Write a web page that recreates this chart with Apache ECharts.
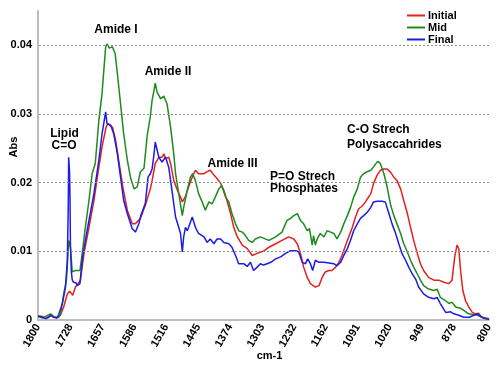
<!DOCTYPE html>
<html>
<head>
<meta charset="utf-8">
<script src="https://cdn.jsdelivr.net/npm/echarts@6/dist/echarts.min.js"></script>
<style>html,body{margin:0;padding:0;background:#fff}#c{width:500px;height:367px}</style>
</head>
<body>
<div id="c"></div>
<script>
const xTicks = [1800, 1728, 1657, 1586, 1516, 1445, 1374, 1303, 1232, 1162, 1091, 1020, 949, 878, 800];
const yTicks = [0, 0.01, 0.02, 0.03, 0.04];
const seriesNames = ['Initial', 'Mid', 'Final'];

const initialX = [1800,1790,1783,1772,1765,1754,1750,1743,1735,1730,1728,1723,1717,1711,1706,1698,1687,1676,1665,1658,1649,1645,1640,1635,1628,1620,1612,1602,1591,1584,1573,1562,1551,1547,1540,1532,1525,1521,1517,1510,1506,1499,1491,1484,1480,1473,1466,1458,1451,1444,1432,1425,1418,1410,1403,1395,1388,1381,1373,1366,1358,1347,1336,1325,1318,1307,1300,1288,1273,1259,1244,1233,1225,1218,1211,1203,1196,1185,1177,1170,1163,1155,1148,1140,1133,1126,1118,1111,1103,1096,1089,1081,1074,1062,1056,1048,1041,1033,1026,1018,1011,1004,996,989,981,974,967,959,952,945,934,922,911,900,889,882,876,871,867,863,858,852,845,837,830,823,817,808,800];
const initialY = [0.0006,0.0005,0.0002,0.0007,0.0004,0.0004,0.0008,0.0019,0.0038,0.0042,0.0041,0.0036,0.0048,0.0053,0.0058,0.0097,0.0135,0.0174,0.0223,0.0252,0.0281,0.0286,0.0283,0.0281,0.0262,0.0228,0.0194,0.016,0.014,0.014,0.0148,0.0167,0.0191,0.0203,0.0228,0.0237,0.0237,0.0242,0.0235,0.0237,0.0228,0.0203,0.0189,0.0179,0.0172,0.018,0.0194,0.0208,0.0218,0.0213,0.0213,0.0216,0.0218,0.0211,0.0206,0.0199,0.0189,0.0174,0.0155,0.0135,0.0121,0.0109,0.0104,0.0094,0.0096,0.0099,0.01,0.0106,0.0111,0.0116,0.0121,0.0118,0.0111,0.0097,0.0077,0.0062,0.0053,0.0048,0.005,0.0062,0.007,0.0072,0.0072,0.0077,0.0084,0.0094,0.0109,0.0121,0.0135,0.015,0.0162,0.0166,0.0172,0.0184,0.0199,0.0211,0.0218,0.022,0.022,0.0215,0.0208,0.0203,0.0191,0.0174,0.0155,0.0135,0.0116,0.0097,0.0082,0.0072,0.0062,0.0058,0.0058,0.0055,0.0053,0.0058,0.0092,0.0109,0.0104,0.0072,0.0043,0.0028,0.0019,0.0011,0.0009,0.001,0.0004,0.0002,0.0001];

const midX = [1800,1790,1781,1772,1765,1758,1750,1743,1737,1734,1732,1728,1724,1717,1707,1702,1695,1687,1680,1673,1665,1658,1650,1647,1642,1635,1629,1624,1617,1610,1602,1595,1587,1580,1573,1565,1558,1551,1547,1540,1536,1528,1521,1514,1506,1499,1495,1488,1480,1477,1469,1462,1457,1451,1444,1436,1429,1421,1414,1407,1399,1393,1384,1377,1370,1362,1355,1347,1340,1333,1325,1318,1307,1303,1288,1273,1259,1248,1240,1233,1225,1218,1211,1203,1198,1192,1189,1185,1181,1174,1166,1159,1151,1144,1137,1129,1122,1114,1107,1100,1092,1085,1078,1070,1062,1056,1047,1041,1033,1026,1018,1011,1004,996,989,981,974,967,959,952,945,934,922,915,908,896,889,882,874,863,856,845,837,826,815,800];
const midY = [0.0005,0.0003,0.0006,0.0009,0.0005,0.0003,0.0008,0.0038,0.0058,0.009,0.0116,0.0106,0.007,0.0072,0.0072,0.0097,0.0135,0.0174,0.0213,0.0228,0.0291,0.033,0.0398,0.0402,0.0396,0.0398,0.0388,0.0359,0.0315,0.0271,0.0233,0.0208,0.0191,0.0194,0.0216,0.0221,0.0268,0.0296,0.032,0.0345,0.0332,0.0322,0.0326,0.0315,0.0281,0.0242,0.0213,0.0184,0.0152,0.0164,0.0189,0.0208,0.0213,0.0203,0.0184,0.0172,0.016,0.0172,0.0169,0.0179,0.0191,0.0196,0.0179,0.0172,0.0155,0.014,0.013,0.0128,0.0123,0.0116,0.0113,0.0118,0.0121,0.0121,0.0116,0.0121,0.0128,0.0145,0.0148,0.0152,0.0155,0.0145,0.014,0.013,0.0133,0.0109,0.0123,0.0109,0.0118,0.0126,0.0121,0.013,0.0128,0.0126,0.0118,0.0128,0.014,0.0152,0.0164,0.0179,0.0191,0.0208,0.0213,0.0216,0.0218,0.0223,0.0231,0.0228,0.0213,0.0194,0.0167,0.0152,0.014,0.0126,0.0111,0.0099,0.0087,0.0077,0.0067,0.0058,0.005,0.0045,0.0043,0.0045,0.0033,0.0028,0.0024,0.0026,0.0019,0.0017,0.0014,0.0009,0.0008,0.0007,0.0004,0.0002];

const finalX = [1800,1798,1790,1783,1776,1772,1765,1758,1754,1746,1739,1735,1733,1732,1730,1729,1728,1726,1724,1721,1718,1715,1713,1710,1707,1702,1695,1687,1676,1665,1658,1652,1650,1647,1643,1639,1632,1624,1617,1610,1602,1591,1584,1576,1572,1569,1562,1556,1551,1547,1543,1540,1536,1532,1525,1517,1510,1502,1495,1488,1484,1480,1477,1473,1469,1466,1458,1451,1444,1432,1425,1418,1410,1403,1395,1388,1377,1370,1362,1355,1344,1336,1329,1322,1314,1307,1300,1292,1284,1273,1262,1251,1240,1228,1222,1214,1207,1202,1196,1191,1185,1177,1166,1155,1144,1137,1129,1122,1114,1107,1100,1092,1085,1078,1070,1062,1056,1048,1037,1030,1022,1015,1007,1000,993,985,978,970,963,956,945,934,922,915,908,896,885,878,867,856,844,826,815,808,800];
const finalY = [0.0006,0.0007,0.0004,0.0002,0.0004,0.0007,0.0004,0.0003,0.0008,0.0024,0.0048,0.0087,0.016,0.0237,0.0215,0.0175,0.0106,0.007,0.0058,0.0055,0.0055,0.0054,0.005,0.0052,0.0053,0.0087,0.0116,0.0145,0.0184,0.0233,0.0271,0.0295,0.0303,0.0286,0.0286,0.0284,0.0271,0.0242,0.0208,0.0174,0.0155,0.0133,0.0128,0.0141,0.0152,0.0154,0.017,0.0208,0.0213,0.022,0.024,0.0259,0.0248,0.0237,0.023,0.0237,0.0222,0.0184,0.015,0.0135,0.0126,0.0099,0.0121,0.0135,0.013,0.0135,0.015,0.0135,0.0126,0.0121,0.0113,0.0118,0.0111,0.0118,0.0118,0.0113,0.0111,0.0106,0.0094,0.0082,0.0082,0.0078,0.0084,0.0072,0.0077,0.0082,0.008,0.0082,0.0084,0.0089,0.0092,0.0097,0.0101,0.0101,0.0099,0.0084,0.0082,0.0089,0.0082,0.0072,0.0087,0.0084,0.0084,0.0083,0.0082,0.0079,0.0084,0.0094,0.0104,0.0116,0.013,0.014,0.0148,0.0152,0.0157,0.0164,0.0172,0.0173,0.0173,0.0172,0.0155,0.014,0.0126,0.0111,0.0097,0.0087,0.0077,0.0067,0.006,0.0048,0.0038,0.0033,0.0031,0.0033,0.0024,0.0011,0.0012,0.0009,0.0007,0.0004,0.0004,0.0009,0.0004,0.0002,0.0001];

const colors = ['#e41f1f', '#1f8a1f', '#1c1ce6'];
const F = 'Liberation Sans, Arial, sans-serif';

const pair = (xs, ys) => xs.map((x, i) => [x, ys[i]]);

const chart = echarts.init(document.getElementById('c'), null, {renderer: 'canvas'});

const gridSeries = {
  type: 'line', data: [], silent: true, z: 1,
  markLine: {
    silent: true, symbol: 'none', animation: false,
    label: {show: false},
    lineStyle: {color: '#8c8c8c', type: [2, 2], width: 1},
    data: yTicks.filter(v => v > 0).map(v => ({yAxis: v}))
  }
};

const textEl = (text, x, y, opts = {}) => Object.assign({
  type: 'text', x, y, silent: true,
  style: Object.assign({text, fill: '#000', font: 'bold 12px ' + F, textAlign: 'center', textVerticalAlign: 'middle'}, opts)
});

chart.setOption({
  animation: false,
  backgroundColor: '#fff',
  grid: {left: 38, right: 11, top: 11, bottom: 47, containLabel: false},
  legend: {
    orient: 'vertical', left: 402, top: 5, itemGap: 1,
    itemWidth: 18, itemHeight: 2, icon: 'rect',
    textStyle: {fontFamily: F, fontWeight: 'bold', fontSize: 11, color: '#000', padding: [0, 0, 0, -2]},
    data: seriesNames
  },
  xAxis: {
    type: 'value', min: 800, max: 1800, inverse: true,
    axisLine: {show: true, onZero: false, lineStyle: {color: '#bdbdbd', width: 2}},
    axisTick: {show: false},
    splitLine: {show: false},
    axisLabel: {
      customValues: xTicks, rotate: 60, margin: 5,
      fontFamily: F, fontWeight: 'bold', fontSize: 11, color: '#000',
      formatter: v => String(v)
    }
  },
  yAxis: {
    type: 'value', min: 0, max: 0.045, interval: 0.01,
    axisLine: {show: true, lineStyle: {color: '#bdbdbd', width: 2}},
    axisTick: {show: false},
    splitLine: {show: false},
    axisLabel: {
      showMaxLabel: false, margin: 6,
      fontFamily: F, fontWeight: 'bold', fontSize: 11, color: '#000',
      formatter: v => (v === 0 ? '0' : String(+v.toFixed(2)))
    }
  },
  series: [
    gridSeries,
    {name: seriesNames[0], type: 'line', showSymbol: false, data: pair(initialX, initialY), lineStyle: {width: 1.5, color: colors[0]}, itemStyle: {color: colors[0]}, z: 2},
    {name: seriesNames[1], type: 'line', showSymbol: false, data: pair(midX, midY), lineStyle: {width: 1.5, color: colors[1]}, itemStyle: {color: colors[1]}, z: 3},
    {name: seriesNames[2], type: 'line', showSymbol: false, data: pair(finalX, finalY), lineStyle: {width: 1.5, color: colors[2]}, itemStyle: {color: colors[2]}, z: 4}
  ],
  graphic: [
    textEl('Amide I', 116, 30),
    textEl('Amide II', 168, 72),
    textEl('Lipid', 64.5, 134),
    textEl('C=O', 64, 146),
    textEl('Amide III', 232.5, 164),
    textEl('P=O Strech', 270, 176.5, {textAlign: 'left'}),
    textEl('Phosphates', 270, 189, {textAlign: 'left'}),
    textEl('C-O Strech', 347, 130, {textAlign: 'left'}),
    textEl('Polysaccahrides', 347, 144.5, {textAlign: 'left'}),
    Object.assign(textEl('Abs', 0, 0, {font: 'bold 11px ' + F}), {x: 14, y: 147, rotation: Math.PI / 2}),
    textEl('cm-1', 269.5, 356, {font: 'bold 11px ' + F})
  ]
});
</script>
</body>
</html>
